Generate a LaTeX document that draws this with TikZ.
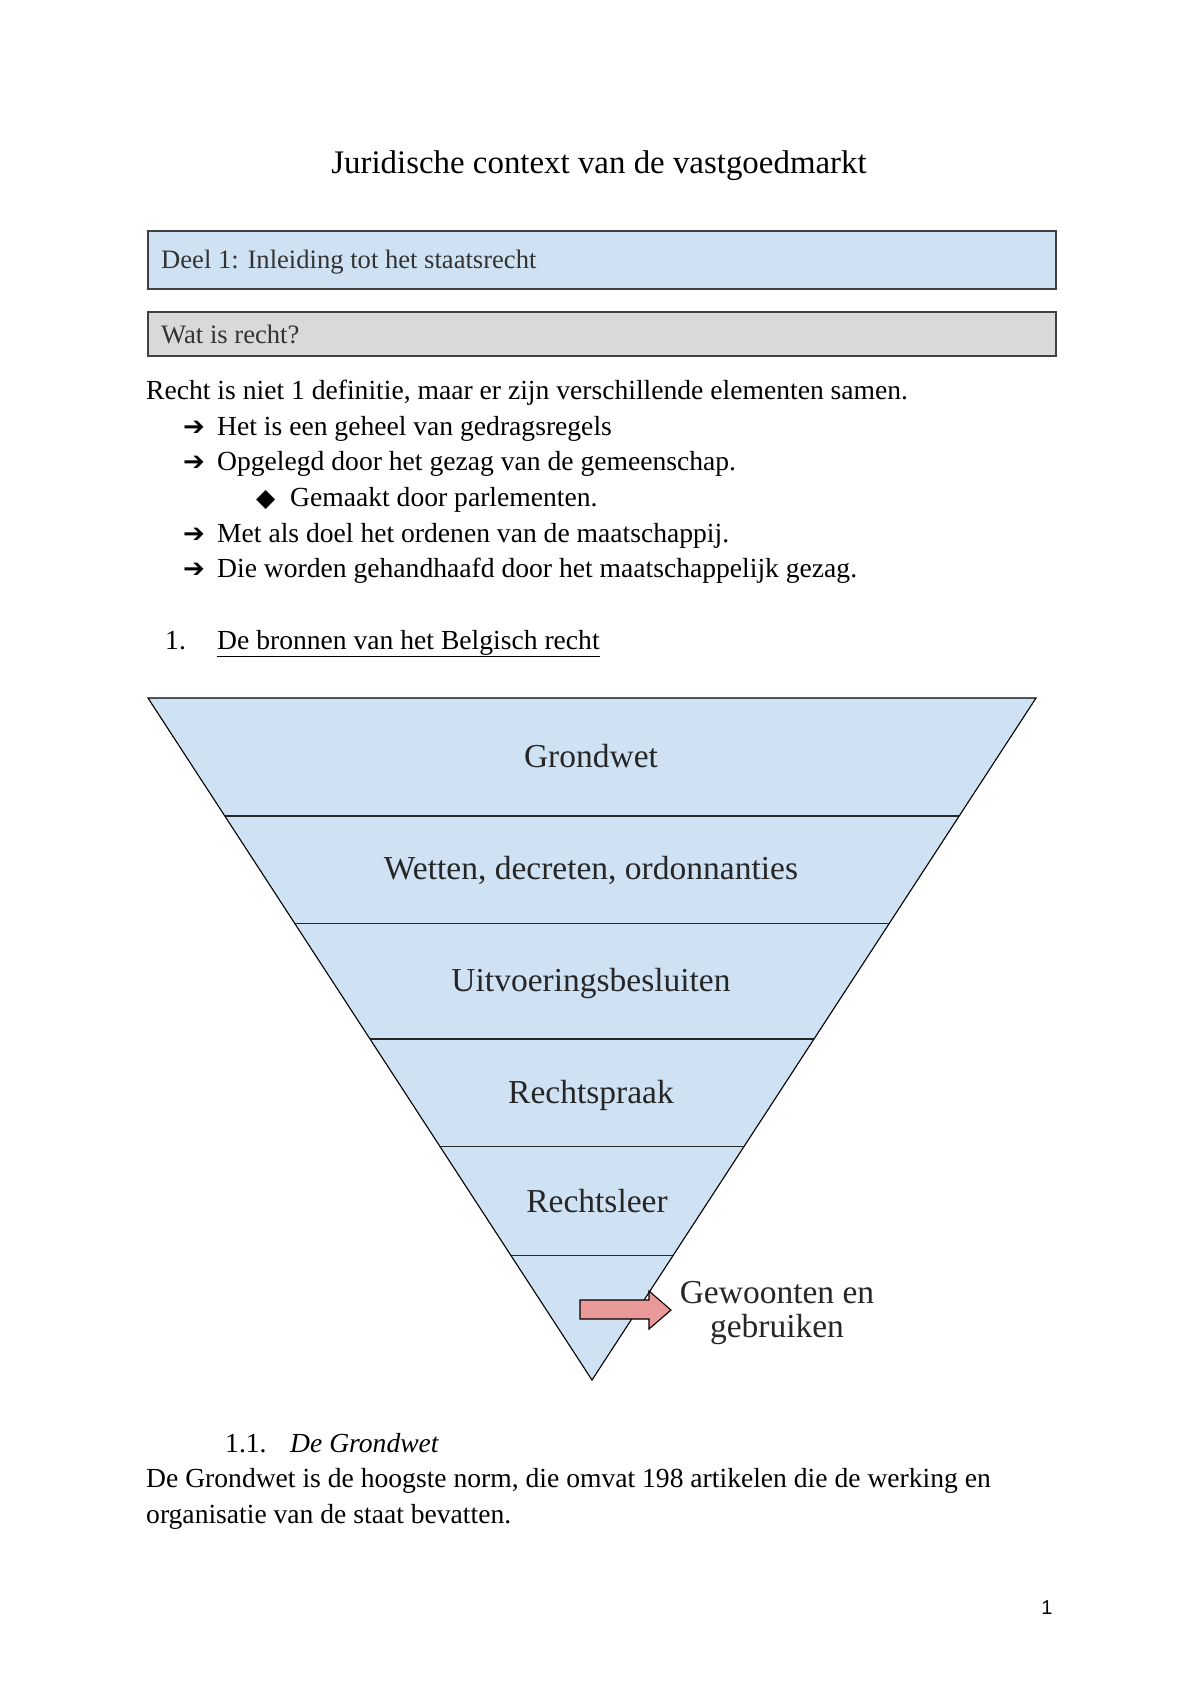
\documentclass[tikz,border=0pt]{standalone}
\usepackage{fontspec}
\setmainfont{Liberation Serif}
\newfontfamily\symfont{DejaVu Sans}
\newfontfamily\pnfont{Liberation Sans}
\usetikzlibrary{calc}
\definecolor{bandblue}{HTML}{CFE2F3}
\definecolor{boxgray}{HTML}{D9D9D9}
\definecolor{arrowpink}{HTML}{EA9999}
\definecolor{labelgray}{HTML}{262626}
\tikzset{
  bodytext/.style={anchor=base west, inner sep=0pt, font=\fontsize{27.6}{32}\selectfont},
  headbox/.style={draw=black!75, line width=1.3pt},
  bandlabel/.style={anchor=base, inner sep=0pt, text=labelgray, font=\fontsize{33.5}{38}\selectfont},
  bandline/.style={line width=1.1pt, draw=black!85},
}
\newcommand{\arr}{{\symfont\fontsize{26}{28}\selectfont ➔}}
\newcommand{\dia}{{\symfont\fontsize{25}{28}\selectfont ◆}}
\begin{document}
\begin{tikzpicture}[x=1pt,y=-1pt]
\useasboundingbox[fill=white] (0,0) rectangle (1200,1695);
% title
\node[anchor=base, inner sep=0pt, font=\fontsize{32.9}{38}\selectfont] (title) at (599,173) {Juridische context van de vastgoedmarkt};
% header boxes
\draw[headbox, fill=bandblue] (148,231) rectangle (1056,289);
\node[anchor=base west, inner sep=0pt, text=black!80, font=\fontsize{26.6}{31}\selectfont] (deel) at (161,268) {Deel 1: Inleiding tot het staatsrecht};
\draw[headbox, fill=boxgray] (148,312) rectangle (1056,356);
\node[anchor=base west, inner sep=0pt, text=black!80, font=\fontsize{26.6}{31}\selectfont] (wat) at (161,343) {Wat is recht?};
% body
\node[bodytext] (l1) at (146,399) {Recht is niet 1 definitie, maar er zijn verschillende elementen samen.};
\node[bodytext] (a1) at (183,435) {\arr};
\node[bodytext] (l2) at (217,435) {Het is een geheel van gedragsregels};
\node[bodytext] (a2) at (183,470) {\arr};
\node[bodytext] (l3) at (217,470) {Opgelegd door het gezag van de gemeenschap.};
\node[bodytext] (d1) at (256,506) {\dia};
\node[bodytext] (l4) at (290,506) {Gemaakt door parlementen.};
\node[bodytext] (a3) at (183,542) {\arr};
\node[bodytext] (l5) at (217,542) {Met als doel het ordenen van de maatschappij.};
\node[bodytext] (a4) at (183,577) {\arr};
\node[bodytext] (l6) at (217,577) {Die worden gehandhaafd door het maatschappelijk gezag.};
\node[bodytext] (n1) at (165,649) {1.};
\node[bodytext] (h1) at (217,649) {\underline{De bronnen van het Belgisch recht}};
% pyramid
\coordinate (tl) at (148,698);
\coordinate (tr) at (1036,698);
\coordinate (ap) at (592,1380);
\fill[bandblue] (tl) -- (tr) -- (ap) -- cycle;
\foreach \t/\n in {0.173/1,0.330/2,0.500/3,0.657/4,0.817/5}{
  \coordinate (L\n) at ($(tl)!\t!(ap)$);
  \coordinate (R\n) at ($(tr)!\t!(ap)$);
  \draw[bandline] (L\n) -- (R\n);
}
\draw[line width=1.1pt, line join=miter] (tl) -- (tr) -- (ap) -- cycle;
\node[bandlabel] (g) at (591,767) {Grondwet};
\node[bandlabel] (w) at (591,879) {Wetten, decreten, ordonnanties};
\node[bandlabel] (u) at (591,991) {Uitvoeringsbesluiten};
\node[bandlabel] (rp) at (591,1103) {Rechtspraak};
\node[bandlabel] (rl) at (597,1212) {Rechtsleer};
% arrow
\draw[fill=arrowpink, line width=1.1pt, line join=miter] (580,1300) -- (649,1300) -- (649,1291) -- (671,1310) -- (649,1329) -- (649,1319) -- (580,1319) -- cycle;
\node[bandlabel] (gw1) at (777,1303) {Gewoonten en};
\node[bandlabel] (gw2) at (777,1337) {gebruiken};
% section 1.1
\node[bodytext] (n11) at (225,1452) {1.1.};
\node[bodytext] (h11) at (290,1452) {\itshape De Grondwet};
\node[bodytext] (p1) at (146,1487) {De Grondwet is de hoogste norm, die omvat 198 artikelen die de werking en};
\node[bodytext] (p2) at (146,1523) {organisatie van de staat bevatten.};
% page number
\node[anchor=base, inner sep=0pt, font=\pnfont\fontsize{20}{24}\selectfont] (pn) at (1047,1614) {1};
\end{tikzpicture}
\end{document}
